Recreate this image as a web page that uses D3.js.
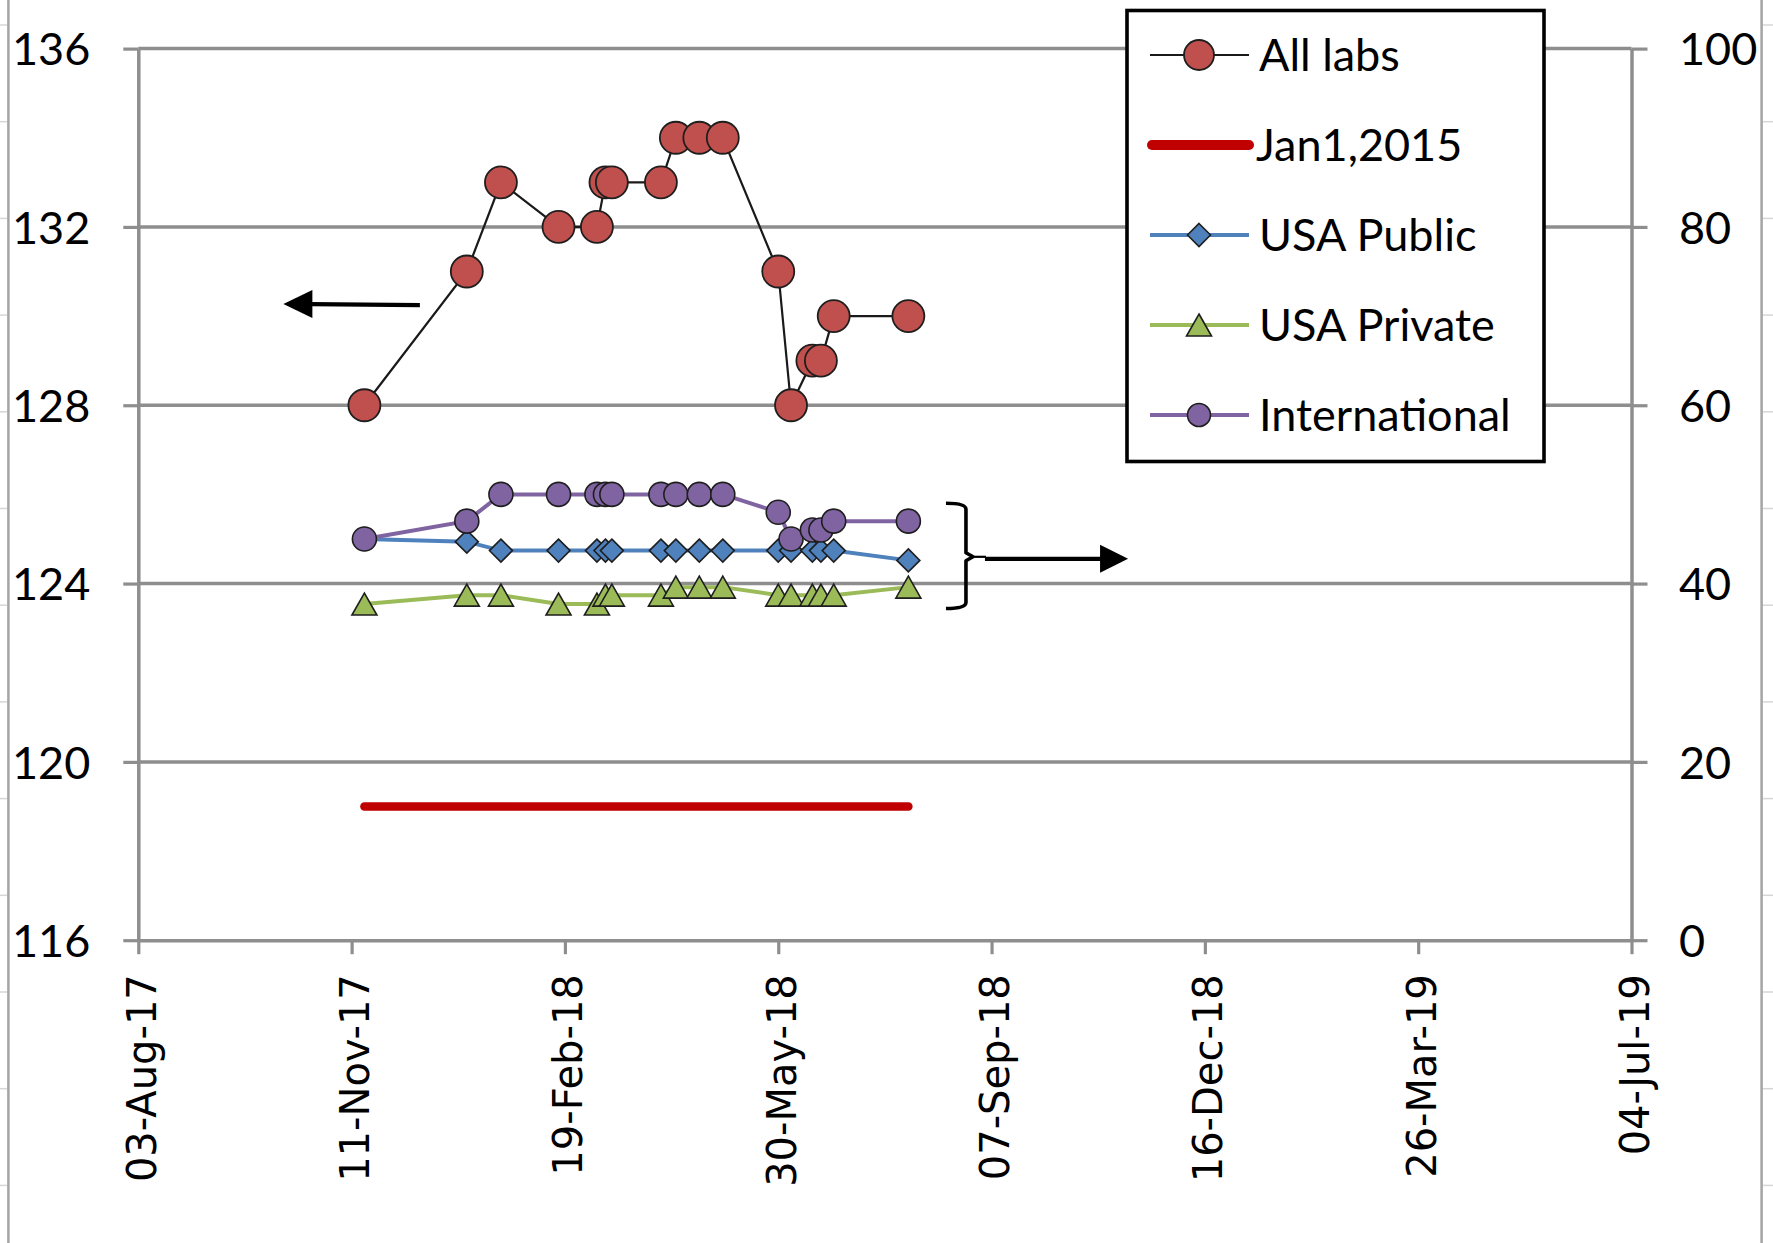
<!DOCTYPE html>
<html><head><meta charset="utf-8">
<script src="https://cdn.jsdelivr.net/npm/d3@7"></script>
<style>body{margin:0;background:#fff}svg{display:block}</style>
</head><body>
<svg id="chart" width="1773" height="1243"></svg>
<script>
// ---- data ----
const dates = ["2017-11-17","2018-01-04","2018-01-20","2018-02-16","2018-03-06","2018-03-10","2018-03-13","2018-04-05","2018-04-12","2018-04-23","2018-05-04","2018-05-30","2018-06-05","2018-06-15","2018-06-19","2018-06-25","2018-07-30"];
const allLabs = [128,131,133,132,132,133,133,133,134,134,134,131,128,129,129,130,130];
const usaPublic = [45,44.7,43.7,43.7,43.7,43.7,43.7,43.7,43.7,43.7,43.7,43.7,43.7,43.7,43.7,43.7,42.6];
const usaPrivate = [37.7,38.7,38.7,37.7,37.7,38.7,38.7,38.7,39.6,39.6,39.6,38.7,38.7,38.7,38.7,38.7,39.6];
const international = [45,47,50,50,50,50,50,50,50,50,50,48,45,46,46,47,47];
const jan2015Value = 119;
const xTickLabels = ["03-Aug-17","11-Nov-17","19-Feb-18","30-May-18","07-Sep-18","16-Dec-18","26-Mar-19","04-Jul-19"];
const leftTicks = [116,120,124,128,132,136];
const rightTicks = [0,20,40,60,80,100];
const legendLabels = ["All labs","Jan1,2015","USA Public","USA Private","International"];

// ---- setup ----
const svg = d3.select("#chart");
const parse = d3.utcParse("%Y-%m-%d");
const tparse = d3.utcParse("%d-%b-%y");
const tickDates = xTickLabels.map(tparse);
const X0 = 138.3, X1 = 1631.5, YT = 48.6, YB = 940.2;
const x = d3.scaleUtc().domain([tickDates[0], tickDates[tickDates.length-1]]).range([X0, X1]);
const yL = d3.scaleLinear().domain([116,136]).range([YB, YT]);
const yR = d3.scaleLinear().domain([0,100]).range([YB, YT]);
const GRID = "#8e8e8e";
const LABEL_FONT = "Lato, 'Noto Sans', sans-serif";

// sheet borders
const rows = d3.range(13).map(i => 25 + 96.7*i);
svg.append("line").attr("x1",8.4).attr("x2",8.4).attr("y1",0).attr("y2",1243).attr("stroke","#a4a4a4").attr("stroke-width",2.5);
svg.append("line").attr("x1",1761.6).attr("x2",1761.6).attr("y1",0).attr("y2",1243).attr("stroke","#a4a4a4").attr("stroke-width",2.5);
svg.selectAll(".rowL").data(rows).enter().append("line").attr("x1",0).attr("x2",7).attr("y1",d=>d).attr("y2",d=>d).attr("stroke","#d6d6d6").attr("stroke-width",1.5);
svg.selectAll(".rowR").data(rows).enter().append("line").attr("x1",1763).attr("x2",1773).attr("y1",d=>d).attr("y2",d=>d).attr("stroke","#d6d6d6").attr("stroke-width",1.5);

// gridlines
svg.append("g").selectAll("line").data(leftTicks.slice(1)).enter().append("line")
  .attr("x1",X0).attr("x2",X1).attr("y1",d=>yL(d)).attr("y2",d=>yL(d))
  .attr("stroke",GRID).attr("stroke-width",3.5);

// axes
function styleAxis(g){
  g.selectAll("path.domain").attr("stroke",GRID).attr("stroke-width",3.5);
  g.selectAll(".tick line").attr("stroke",GRID).attr("stroke-width",3.2);
  g.selectAll("text").attr("fill","#000");
}
const axL = svg.append("g").attr("transform",`translate(${X0},0)`)
  .call(d3.axisLeft(yL).tickValues(leftTicks).tickSize(15).tickSizeOuter(0).tickPadding(33));
axL.call(styleAxis);
axL.selectAll("text").attr("font-family",LABEL_FONT).attr("font-size",45).attr("dy","0.36em");

const axR = svg.append("g").attr("transform",`translate(${X1},0)`)
  .call(d3.axisRight(yR).tickValues(rightTicks).tickSize(16).tickSizeOuter(0).tickPadding(31.5));
axR.call(styleAxis);
axR.selectAll("text").attr("font-family",LABEL_FONT).attr("font-size",45).attr("dy","0.36em");

const axB = svg.append("g").attr("transform",`translate(0,${YB})`)
  .call(d3.axisBottom(x).tickValues(tickDates).tickFormat((d,i)=>xTickLabels[i]).tickSize(14).tickSizeOuter(0));
axB.call(styleAxis);
axB.selectAll("text").attr("font-family","'DejaVu Sans', Verdana, sans-serif").attr("font-size",40)
  .attr("transform","rotate(-90)").attr("text-anchor","end").attr("x",-34).attr("y",17).attr("dy",0);

// ---- series ----
const dd = dates.map(parse);
const mk = vals => vals.map((v,i)=>({date:dd[i], v}));
const sAll = mk(allLabs), sPub = mk(usaPublic), sPri = mk(usaPrivate), sInt = mk(international);

const lineL = d3.line().x(d=>x(d.date)).y(d=>yL(d.v));
const lineR = d3.line().x(d=>x(d.date)).y(d=>yR(d.v));

const RED="#C0504D", BLUE="#4F81BD", GREEN="#9BBB59", PURPLE="#8064A2", MSTROKE="#1e1e1e";
const diamond = "M0,-11.5L11.5,0L0,11.5L-11.5,0Z";
const triangle = "M0,-11L12.5,11L-12.5,11Z";

// All labs
svg.append("path").datum(sAll).attr("d",lineL).attr("fill","none").attr("stroke","#1a1a1a").attr("stroke-width",2.2);
svg.append("g").selectAll("circle").data(sAll).enter().append("circle")
  .attr("cx",d=>x(d.date)).attr("cy",d=>yL(d.v)).attr("r",16)
  .attr("fill",RED).attr("stroke",MSTROKE).attr("stroke-width",1.8);

// Jan1,2015 reference
svg.append("line").attr("x1",x(dd[0])).attr("x2",x(dd[dd.length-1]))
  .attr("y1",yL(jan2015Value)).attr("y2",yL(jan2015Value))
  .attr("stroke","#C00000").attr("stroke-width",8.5).attr("stroke-linecap","round");

// USA Public
svg.append("path").datum(sPub).attr("d",lineR).attr("fill","none").attr("stroke",BLUE).attr("stroke-width",4);
svg.append("g").selectAll("path").data(sPub).enter().append("path")
  .attr("d",diamond).attr("transform",d=>`translate(${x(d.date)},${yR(d.v)})`)
  .attr("fill",BLUE).attr("stroke",MSTROKE).attr("stroke-width",1.6);

// USA Private
svg.append("path").datum(sPri).attr("d",lineR).attr("fill","none").attr("stroke",GREEN).attr("stroke-width",4);
svg.append("g").selectAll("path").data(sPri).enter().append("path")
  .attr("d",triangle).attr("transform",d=>`translate(${x(d.date)},${yR(d.v)})`)
  .attr("fill",GREEN).attr("stroke",MSTROKE).attr("stroke-width",1.6);

// International
svg.append("path").datum(sInt).attr("d",lineR).attr("fill","none").attr("stroke",PURPLE).attr("stroke-width",4);
svg.append("g").selectAll("circle").data(sInt).enter().append("circle")
  .attr("cx",d=>x(d.date)).attr("cy",d=>yR(d.v)).attr("r",12)
  .attr("fill",PURPLE).attr("stroke",MSTROKE).attr("stroke-width",1.6);

// ---- annotations (placed in data units) ----
// left arrow -> primary axis
const la = {tail: parse("2017-12-13"), tip: parse("2017-10-10"), v: 130.27};
const lax1 = x(la.tail), lax2 = x(la.tip), lay = yL(la.v);
svg.append("line").attr("x1",lax1).attr("x2",lax2+27).attr("y1",lay+1).attr("y2",lay).attr("stroke","#000").attr("stroke-width",4.2);
svg.append("path").attr("d",`M${lax2},${lay}L${lax2+29},${lay-14}L${lax2+29},${lay+14}Z`).attr("fill","#000");

// brace + right arrow -> secondary axis
const br = {date: parse("2018-08-26"), top: 49.0, mid: 43.0, bot: 37.2, tip: parse("2018-11-10")};
const bx = x(br.date), bt = yR(br.top), bm = yR(br.mid), bb = yR(br.bot), tipx = x(br.tip);
svg.append("path")
  .attr("d",`M${bx-20},${bt}Q${bx},${bt} ${bx},${bt+6}L${bx},${bm-4}L${bx+7},${bm}L${bx},${bm+4}L${bx},${bb-6}Q${bx},${bb} ${bx-20},${bb}`)
  .attr("fill","none").attr("stroke","#000").attr("stroke-width",3.6).attr("stroke-linejoin","round");
svg.append("line").attr("x1",bx+5).attr("x2",bx+20).attr("y1",bm).attr("y2",bm).attr("stroke","#000").attr("stroke-width",2.2);
svg.append("line").attr("x1",bx+19).attr("x2",tipx-26).attr("y1",bm+2).attr("y2",bm+2).attr("stroke","#000").attr("stroke-width",4.2);
svg.append("path").attr("d",`M${tipx},${bm+2}L${tipx-28},${bm-12}L${tipx-28},${bm+16}Z`).attr("fill","#000");

// ---- legend ----
const lg = svg.append("g");
lg.append("rect").attr("x",1127).attr("y",10.5).attr("width",417).attr("height",451)
  .attr("fill","#fff").attr("stroke","#000").attr("stroke-width",3.6);
const rowY = legendLabels.map((d,i)=>55 + 90*i);
const LX1 = 1150, LX2 = 1249, LMX = 1199, LTX = 1259;
// All labs
lg.append("line").attr("x1",LX1).attr("x2",LX2).attr("y1",rowY[0]).attr("y2",rowY[0]).attr("stroke","#1a1a1a").attr("stroke-width",2.2);
lg.append("circle").attr("cx",LMX).attr("cy",rowY[0]).attr("r",15).attr("fill",RED).attr("stroke",MSTROKE).attr("stroke-width",1.8);
// Jan1,2015
lg.append("line").attr("x1",LX1+2).attr("x2",LX2).attr("y1",rowY[1]).attr("y2",rowY[1]).attr("stroke","#C00000").attr("stroke-width",10).attr("stroke-linecap","round");
// USA Public
lg.append("line").attr("x1",LX1).attr("x2",LX2).attr("y1",rowY[2]).attr("y2",rowY[2]).attr("stroke",BLUE).attr("stroke-width",4);
lg.append("path").attr("d",diamond).attr("transform",`translate(${LMX},${rowY[2]})`).attr("fill",BLUE).attr("stroke",MSTROKE).attr("stroke-width",1.6);
// USA Private
lg.append("line").attr("x1",LX1).attr("x2",LX2).attr("y1",rowY[3]).attr("y2",rowY[3]).attr("stroke",GREEN).attr("stroke-width",4);
lg.append("path").attr("d",triangle).attr("transform",`translate(${LMX},${rowY[3]})`).attr("fill",GREEN).attr("stroke",MSTROKE).attr("stroke-width",1.6);
// International
lg.append("line").attr("x1",LX1).attr("x2",LX2).attr("y1",rowY[4]).attr("y2",rowY[4]).attr("stroke",PURPLE).attr("stroke-width",4);
lg.append("circle").attr("cx",LMX).attr("cy",rowY[4]).attr("r",11.5).attr("fill",PURPLE).attr("stroke",MSTROKE).attr("stroke-width",1.6);

lg.selectAll("text").data(legendLabels).enter().append("text")
  .attr("x",(d,i)=> i===1 ? LTX-3 : LTX).attr("y",(d,i)=>rowY[i]+16)
  .attr("font-family",LABEL_FONT).attr("font-size",45).attr("fill","#000").text(d=>d);
</script>
</body></html>
